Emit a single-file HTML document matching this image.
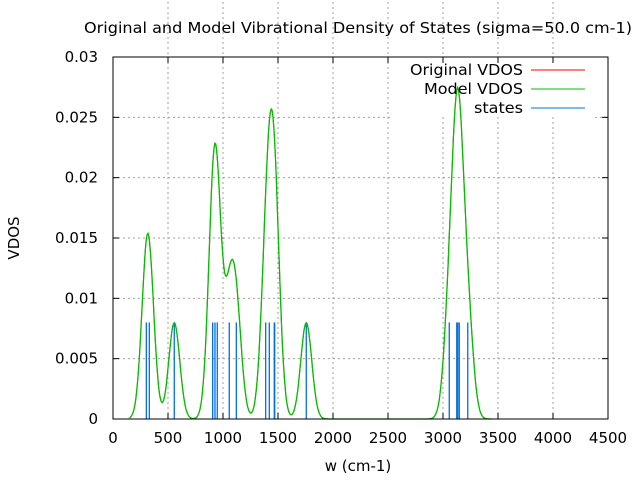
<!DOCTYPE html>
<html><head><meta charset="utf-8"><style>
body{margin:0;background:#fff}
svg{display:block;font-family:"DejaVu Sans","Liberation Sans",sans-serif;font-size:15px}
</style></head><body>
<svg id="s" width="640" height="480" xmlns="http://www.w3.org/2000/svg">
<rect width="640" height="480" fill="#fff"/>
<g id="grid" stroke="#a0a0a0" stroke-dasharray="2,3" stroke-width="1"></g>
<rect x="390" y="58" width="205" height="59" fill="#fff"/>
<g id="ticks" stroke="#000" stroke-width="1"></g>
<g id="states" stroke="#0070e0" stroke-width="1.3"></g>
<polyline id="red" fill="none" stroke="#ff0000" stroke-width="1"/>
<polyline id="grn" fill="none" stroke="#00c000" stroke-width="1.3"/>
<rect x="113" y="57" width="495" height="362" fill="none" stroke="#000"/>
<g id="lab"></g>
<text x="84" y="33" textLength="548" lengthAdjust="spacingAndGlyphs">Original and Model Vibrational Density of States (sigma=50.0 cm-1)</text>
<text x="358" y="471" text-anchor="middle">w (cm-1)</text>
<text transform="translate(19,238) rotate(-90)" text-anchor="middle">VDOS</text>
<text x="410" y="75" textLength="113" lengthAdjust="spacingAndGlyphs">Original VDOS</text>
<text x="424" y="94" textLength="99" lengthAdjust="spacingAndGlyphs">Model VDOS</text>
<text x="474" y="113" textLength="49" lengthAdjust="spacingAndGlyphs">states</text>
<line x1="531" y1="70" x2="585" y2="70" stroke="#ff0000"/>
<line x1="531" y1="89" x2="585" y2="89" stroke="#00c000"/>
<line x1="531" y1="108" x2="585" y2="108" stroke="#0070e0"/>
</svg>
<script>
var NS="http://www.w3.org/2000/svg";
function el(p,t,a,txt){var e=document.createElementNS(NS,t);for(var k in a)e.setAttribute(k,a[k]);if(txt!=null)e.textContent=txt;document.getElementById(p).appendChild(e);}
function X(w){return 113+w*495/4500;}
function Y(v){return 419-v*362/0.03;}
for(var i=0;i<=9;i++){var w=i*500,x=X(w);
 if(i>0&&i<9){var top=(w>=2500&&w<=4000)?117:57;el("grid","line",{x1:x,y1:419,x2:x,y2:top});}
 el("ticks","line",{x1:x,y1:419,x2:x,y2:413});el("ticks","line",{x1:x,y1:57,x2:x,y2:63});
 el("lab","text",{x:x,y:443,"text-anchor":"middle"},String(w));}
var yl=["0","0.005","0.01","0.015","0.02","0.025","0.03"];
for(var j=0;j<=6;j++){var y=Y(j*0.005);
 if(j>0&&j<6){var x2=(j==5)?390:608;el("grid","line",{x1:113,y1:y,x2:x2,y2:y});if(j==5)el("grid","line",{x1:595,y1:y,x2:608,y2:y});}
 el("ticks","line",{x1:113,y1:y,x2:119,y2:y});el("ticks","line",{x1:608,y1:y,x2:602,y2:y});
 el("lab","text",{x:98,y:y+5,"text-anchor":"end"},yl[j]);}
var st=[303,330,557,906,927,948,1057,1121,1388,1421,1466,1470,1757,3057,3125,3134,3148,3225];
st.forEach(function(w){el("states","line",{x1:X(w),y1:419,x2:X(w),y2:Y(0.008)});});
var pts=[],s=50,c=1/(s*Math.sqrt(2*Math.PI));
for(var w=150;w<=3450;w+=8){var v=0;st.forEach(function(m){v+=c*Math.exp(-(w-m)*(w-m)/(2*s*s));});
 pts.push(X(w).toFixed(1)+","+Y(v).toFixed(1));}
document.getElementById("red").setAttribute("points",pts.join(" "));
document.getElementById("grn").setAttribute("points",pts.join(" "));
</script>
</body></html>
